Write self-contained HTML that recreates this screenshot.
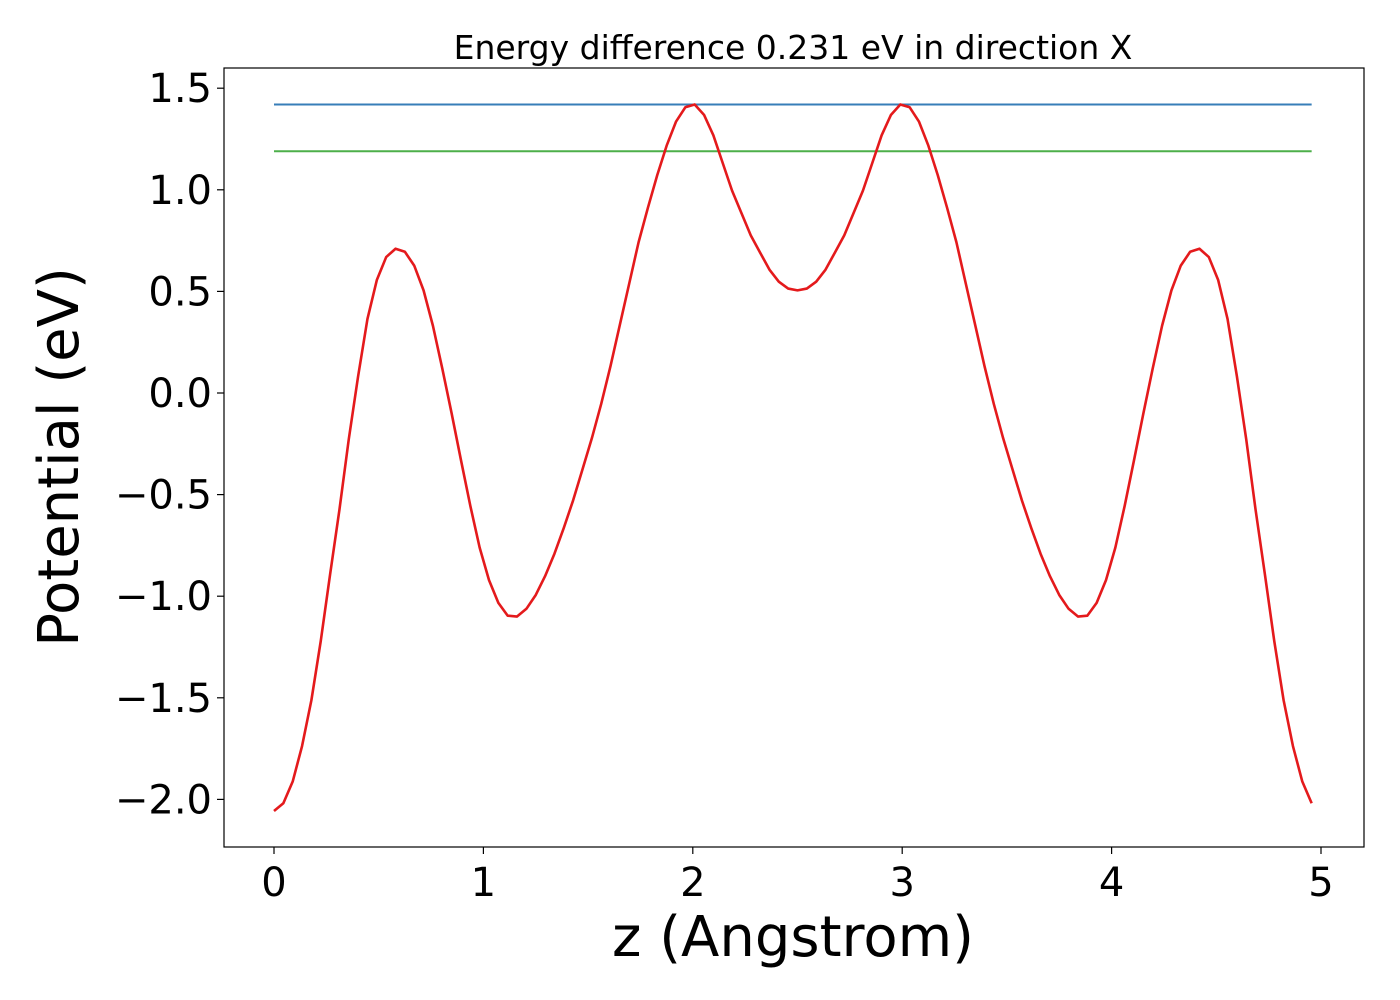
<!DOCTYPE html>
<html><head><meta charset="utf-8"><style>
html,body{margin:0;padding:0;background:#fff;}
svg{display:block;font-family:"DejaVu Sans","Liberation Sans",sans-serif;}
</style></head><body>
<svg id="chart" width="1400" height="1000" viewBox="0 0 1400 1000" xmlns="http://www.w3.org/2000/svg">
<rect x="0" y="0" width="1400" height="1000" fill="#fff"/>
<text x="793" y="59" font-size="33" text-anchor="middle">Energy difference 0.231 eV in direction X</text>
<g id="plot"></g>
<rect x="224" y="68" width="1140" height="779" fill="none" stroke="#000" stroke-width="1.2"/>
<g id="xticks"></g><g id="yticks"></g>
<text x="793" y="956" font-size="56" text-anchor="middle">z (Angstrom)</text>
<text transform="translate(78,457) rotate(-90)" font-size="56" text-anchor="middle">Potential (eV)</text>
</svg>
<script>
const potential = [-2.057,-2.019,-1.912,-1.738,-1.512,-1.221,-0.893,-0.574,-0.227,0.083,0.365,0.556,0.669,0.710,0.695,0.627,0.505,0.331,0.121,-0.100,-0.330,-0.555,-0.761,-0.921,-1.033,
-1.096,-1.100,-1.062,-0.994,-0.901,-0.791,-0.664,-0.528,-0.376,-0.223,-0.054,0.133,0.336,0.539,0.742,0.912,1.073,1.217,1.335,1.406,1.420,1.369,1.268,1.132,0.996,0.886,0.776,0.691,0.607,0.548,0.514,0.505,
0.514,0.548,0.607,0.691,0.776,0.886,0.996,1.132,1.268,1.369,1.420,1.406,1.335,1.217,1.073,0.912,0.742,0.539,0.336,0.133,-0.054,-0.223,-0.376,-0.528,-0.664,-0.791,-0.901,-0.994,-1.062,-1.100,-1.096,-1.033,-0.921,-0.761,-0.555,-0.330,-0.100,0.121,0.331,0.505,0.627,0.695,0.710,0.669,0.556,0.365,0.083,-0.227,-0.574,-0.893,-1.221,-1.512,-1.738,-1.912,-2.019];
const zStep = 5/112;
const maxLevel = 1.42;
const refLevel = 1.19;
const xTicks = [0,1,2,3,4,5];
const xTickLabels = ["0","1","2","3","4","5"];
const yTicks = [1.5,1.0,0.5,0.0,-0.5,-1.0,-1.5,-2.0];
const yTickLabels = ["1.5","1.0","0.5","0.0","\u22120.5","\u22121.0","\u22121.5","\u22122.0"];

const NS = "http://www.w3.org/2000/svg";
function xs(v){ return 274 + v*209.4; }
function ys(v){ return 393 - v*203.2; }
function mk(tag, attrs, parent){ const e=document.createElementNS(NS,tag); for(const k in attrs) e.setAttribute(k,attrs[k]); parent.appendChild(e); return e; }

const plot = document.getElementById('plot');
const xEnd = (potential.length-1)*zStep;
const blue = mk('line',{x1:xs(0),x2:xs(xEnd),y1:ys(maxLevel),y2:ys(maxLevel),stroke:'#377eb8','stroke-width':2},plot);


const green = mk('line',{x1:xs(0),x2:xs(xEnd),y1:ys(refLevel),y2:ys(refLevel),stroke:'#4daf4a','stroke-width':2},plot);


const pts = potential.map((v,i)=>xs(i*zStep).toFixed(2)+','+ys(v).toFixed(2)).join(' ');
const curve = mk('polyline',{points:pts,fill:'none',stroke:'#e41a1c','stroke-width':2.6,'stroke-linejoin':'round'},plot);



const xg = document.getElementById('xticks');
xTicks.forEach((t,i)=>{
  const l = mk('line',{x1:xs(t),x2:xs(t),y1:847,y2:854,stroke:'#000','stroke-width':1.2},xg);
  
  
  const tx = mk('text',{x:xs(t),y:896,'font-size':40,'text-anchor':'middle'},xg);
  tx.textContent = xTickLabels[i];
  
  
});
const yg = document.getElementById('yticks');
yTicks.forEach((t,i)=>{
  const l = mk('line',{x1:217,x2:224,y1:ys(t),y2:ys(t),stroke:'#000','stroke-width':1.2},yg);
  
  
  const tx = mk('text',{x:212,y:ys(t)+14,'font-size':40,'text-anchor':'end'},yg);
  tx.textContent = yTickLabels[i];
  
  
});
</script>
</body></html>
